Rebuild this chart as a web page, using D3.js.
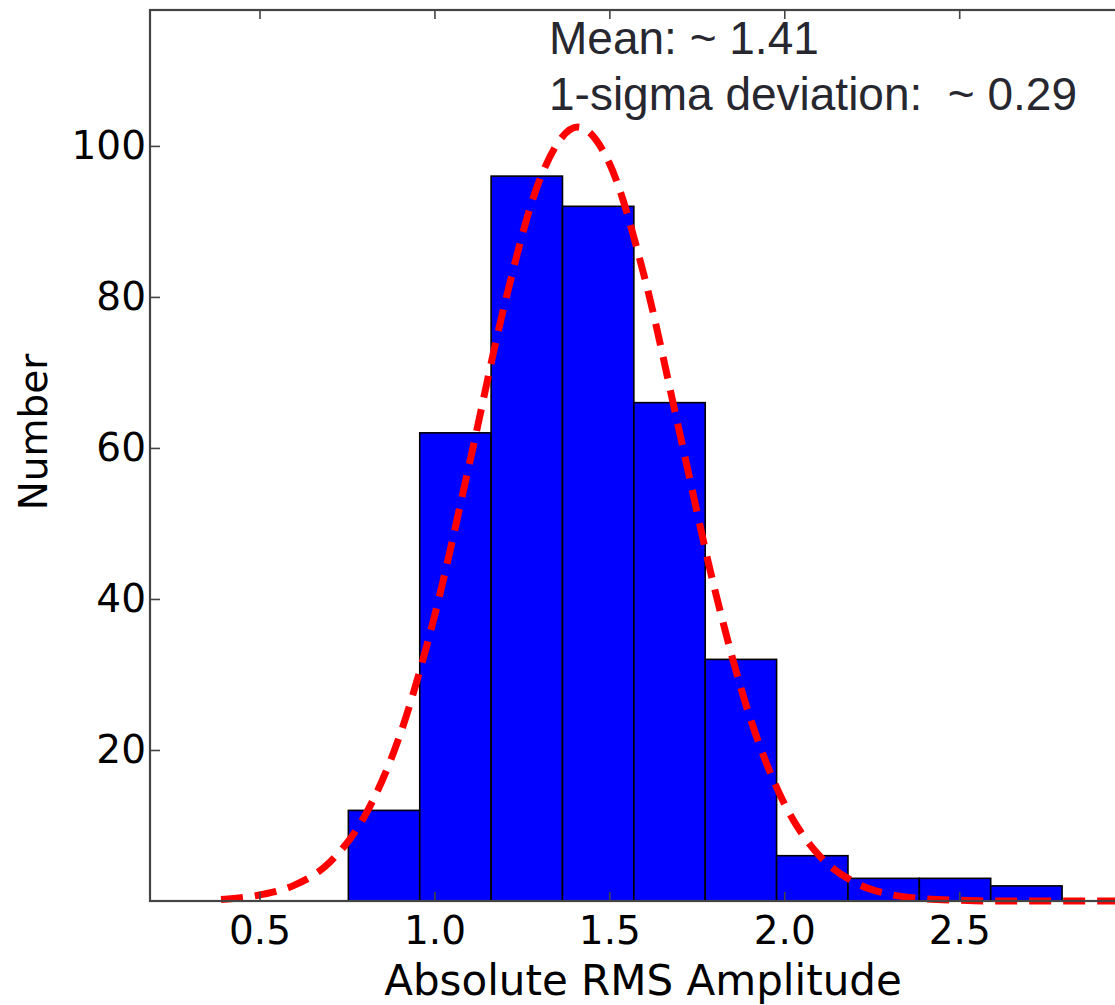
<!DOCTYPE html>
<html>
<head>
<meta charset="utf-8">
<script src="https://d3js.org/d3.v7.min.js"></script>
<style>
  body { margin: 0; background: #fff; }
  svg { display: block; }
</style>
</head>
<body>
<svg width="1115" height="1005"></svg>
<script>

    // histogram bins (Absolute RMS Amplitude) and counts
    const binEdges = [0.754, 0.958, 1.162, 1.366, 1.570, 1.774, 1.978, 2.182, 2.386, 2.590, 2.794];
    const counts = [12, 62, 96, 92, 66, 32, 6, 3, 3, 2];

    // red dashed fit curve
    const curveX = [0.39, 0.5, 0.6, 0.7, 0.8, 0.9, 1.0, 1.1, 1.2, 1.3, 1.41, 1.5, 1.6, 1.7, 1.8, 1.9, 2.0, 2.1, 2.2, 2.3, 2.4, 2.5, 2.6, 2.7, 2.8, 2.9, 3.0];
    const curveY = [0.2, 0.8, 2.1, 5.1, 11.2, 21.8, 37.7, 57.9, 78.9, 95.4, 102.5, 97.7, 82.7, 62.2, 41.5, 24.6, 12.9, 6.0, 2.5, 0.9, 0.3, 0.1, 0, 0, 0, 0, 0];

    const xTicks = [0.5, 1.0, 1.5, 2.0, 2.5];
    const yTicks = [20, 40, 60, 80, 100];
    const notes = ["Mean: ~ 1.41", "1-sigma deviation:  ~ 0.29"];

    const svg = d3.select("svg");
    const mLeft = 150, mRight = 1117, mTop = 10, mBottom = 901;

    const x = d3.scaleLinear().domain([0.187, 2.951]).range([mLeft, mRight]);
    const y = d3.scaleLinear().domain([0, 118]).range([mBottom, mTop]);

    // bars
    svg.append("g")
        .selectAll("rect")
        .data(counts)
        .enter()
        .append("rect")
        .attr("x", (d, i) => x(binEdges[i]))
        .attr("width", (d, i) => x(binEdges[i + 1]) - x(binEdges[i]))
        .attr("y", d => y(d))
        .attr("height", d => y(0) - y(d))
        .attr("fill", "#0000ff")
        .attr("stroke", "#000")
        .attr("stroke-width", 1.6);

    // fit curve
    const line = d3.line()
        .x((d, i) => x(curveX[i]))
        .y(d => y(d))
        .curve(d3.curveMonotoneX);

    svg.append("path")
        .datum(curveY)
        .attr("d", line)
        .attr("fill", "none")
        .attr("stroke", "#ff0000")
        .attr("stroke-width", 7)
        .attr("stroke-dasharray", "22,12");

    // frame
    svg.append("rect")
        .attr("x", mLeft).attr("y", mTop)
        .attr("width", mRight - mLeft).attr("height", mBottom - mTop)
        .attr("fill", "none")
        .attr("stroke", "#444")
        .attr("stroke-width", 2.2);

    // axes with inward ticks
    const xAxis = svg.append("g")
        .attr("transform", "translate(0," + mBottom + ")")
        .call(d3.axisBottom(x).tickValues(xTicks).tickFormat(d3.format(".1f")).tickSize(-9).tickPadding(16));
    const xTop = svg.append("g")
        .attr("transform", "translate(0," + mTop + ")")
        .call(d3.axisTop(x).tickValues(xTicks).tickFormat("").tickSize(-9));
    const yAxis = svg.append("g")
        .attr("transform", "translate(" + mLeft + ",0)")
        .call(d3.axisLeft(y).tickValues(yTicks).tickSize(-10).tickPadding(4));

    [xAxis, xTop, yAxis].forEach(a => {
        a.select(".domain").remove();
        a.selectAll(".tick line").attr("stroke", "#444").attr("stroke-width", 1.6);
        a.selectAll("text")
            .attr("fill", "#000")
            .style("font-family", "DejaVu Sans")
            .style("font-size", "39px");
    });
    xAxis.selectAll("text").attr("dy", "0.71em").attr("y", 15);

    // axis titles
    svg.append("text")
        .attr("x", 643).attr("y", 995)
        .attr("text-anchor", "middle")
        .style("font-family", "DejaVu Sans")
        .style("font-size", "42px")
        .text("Absolute RMS Amplitude");

    svg.append("text")
        .attr("transform", "translate(47,432) rotate(-90)")
        .attr("text-anchor", "middle")
        .style("font-family", "DejaVu Sans")
        .style("font-size", "39px")
        .text("Number");

    // annotation
    svg.selectAll(".note")
        .data(notes)
        .enter()
        .append("text")
        .attr("class", "note")
        .attr("x", 549)
        .attr("y", (d, i) => 54 + i * 56)
        .attr("fill", "#272730")
        .style("font-family", "Liberation Sans")
        .style("font-size", "46px")
        .style("white-space", "pre")
        .text(d => d);

</script>
</body>
</html>
